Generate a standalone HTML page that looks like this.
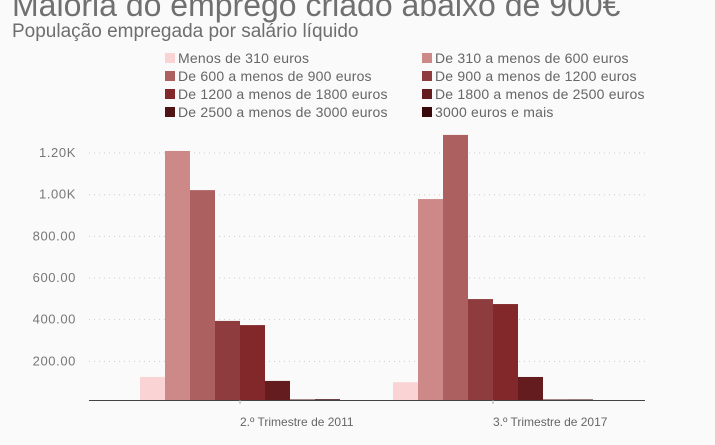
<!DOCTYPE html>
<html><head><meta charset="utf-8"><style>
body{margin:0;background:#fafafa;font-family:"Liberation Sans",sans-serif;}
#wrap{position:relative;width:715px;height:445px;overflow:hidden;background:#fafafa;}
</style></head><body>
<div id="wrap">
<svg id="svg" width="715" height="445">
<text x="12" y="16" font-size="32" fill="#707070">Maioria do emprego criado abaixo de 900€</text>
<text x="12" y="37" font-size="19" fill="#6e6e6e">População empregada por salário líquido</text>
<g id="legend"></g>
<g id="grid"></g>
<g id="bars"></g>
<line x1="89" x2="645" y1="400.5" y2="400.5" stroke="#444" stroke-width="1"/>
<g id="xlabels"></g>
</svg>
</div>
<script>
const categories=["2.º Trimestre de 2011","3.º Trimestre de 2017"];
const seriesNames=["Menos de 310 euros","De 310 a menos de 600 euros","De 600 a menos de 900 euros","De 900 a menos de 1200 euros","De 1200 a menos de 1800 euros","De 1800 a menos de 2500 euros","De 2500 a menos de 3000 euros","3000 euros e mais"];
const values2011=[125,1210,1022,394,374,106,3,18];
const values2017=[100,979,1287,499,475,125,8,10];
const tickValues=[200,400,600,800,1000,1200];
const tickLabels=["200.00","400.00","600.00","800.00","1.00K","1.20K"];
const colors=["#fad4d4","#cd8888","#ad6060","#8e3c3e","#82282a","#641c1e","#4e1416","#3a0808"];
const ns="http://www.w3.org/2000/svg";
const zeroY=403,k=0.2083,baseY=400;
function y(v){return zeroY-v*k;}
const groupX=[140,393],bw=25;
function mk(t,a,p){const e=document.createElementNS(ns,t);for(const q in a)e.setAttribute(q,a[q]);p.appendChild(e);return e;}
const grid=document.getElementById('grid');
tickValues.forEach((v,i)=>{
 const l=mk('line',{x1:89,x2:645,y1:y(v),y2:y(v),stroke:'#ccc','stroke-dasharray':'1,4'},grid);
 
 
 const t=mk('text',{x:76,y:y(v)+4,'text-anchor':'end','font-size':13,'letter-spacing':'0.6',fill:'#777'},grid);
 t.textContent=tickLabels[i];
 
 
});
const bars=document.getElementById('bars');
[values2011,values2017].forEach((vals,g)=>{
 vals.forEach((v,i)=>{
  const top=Math.min(y(v),baseY-0.5);
  const r=mk('rect',{x:groupX[g]+i*bw,y:top,width:bw,height:baseY-top,fill:colors[i]},bars);
  
  
 });
});
const xl=document.getElementById('xlabels');
categories.forEach((c,g)=>{
 const tx=groupX[g]+100;
 const tk=mk('line',{x1:tx,x2:tx,y1:400,y2:404,stroke:'#aaa'},xl);
 
 
 const t=mk('text',{x:tx,y:426,'font-size':12,fill:'#666'},xl);
 t.textContent=c;
 
 
});
const lg=document.getElementById('legend');
seriesNames.forEach((n,i)=>{
 const col=i%2,row=Math.floor(i/2);
 const x=col?422:165,yy=53+row*18;
 const g=mk('g',{},lg);
 
 
 mk('rect',{x:x,y:yy,width:10,height:10,fill:colors[i]},g);
 const t=mk('text',{x:x+13,y:yy+10,'font-size':14,'letter-spacing':'0.2',fill:'#666'},g);
 t.textContent=n;
});
</script>
</body></html>
